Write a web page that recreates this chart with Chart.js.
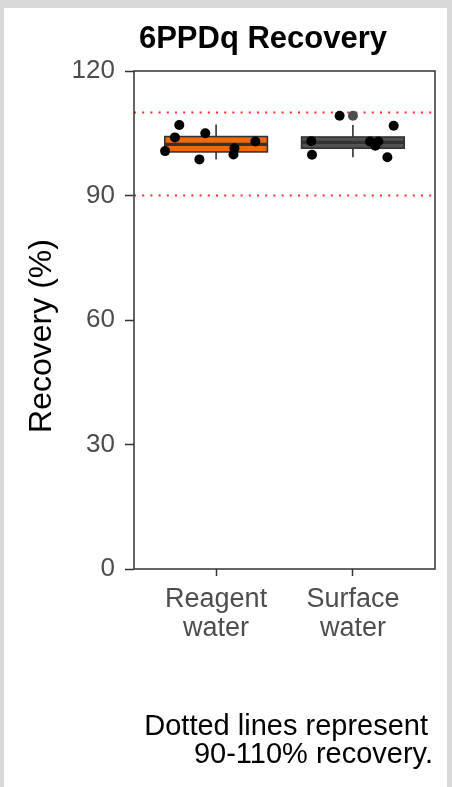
<!DOCTYPE html>
<html lang="en">
<head>
<meta charset="UTF-8" />
<title>6PPDq Recovery</title>
<script src="https://cdn.jsdelivr.net/npm/chart.js"></script>
<style>
  html, body { margin: 0; padding: 0; }
  body { background: #d9d9d9; width: 452px; height: 787px; overflow: hidden; position: relative; }
  .frame { position: absolute; left: 4px; top: 8px; width: 443px; height: 779px; background: #fff; }
  canvas { display: block; }
</style>
</head>
<body>
<div class="frame"><canvas id="recoveryChart" width="443" height="779"></canvas></div>

<script>
const categories = ['Reagent water', 'Surface water'];
const categoryLines = [['Reagent', 'water'], ['Surface', 'water']];
const yTicks = [0, 30, 60, 90, 120];
const limitLines = [90, 110];

// box stats
const boxLow = [98.7, 99.2];
const boxQ1 = [100.5, 101.4];
const boxMedian = [102.3, 102.8];
const boxQ3 = [104.2, 104.1];
const boxHigh = [107.1, 107.0];
const boxFill = ['#ef6a0a', '#525252'];

// individual samples, x = category position with jitter
const reagentX = [0.731, 0.699, 0.921, 0.627, 0.878, 1.287, 1.134, 1.127];
const reagentY = [107.0, 104.0, 105.0, 100.7, 98.7, 103.0, 101.4, 99.9];
const surfaceX = [1.903, 2.298, 1.696, 1.701, 2.125, 2.186, 2.164, 2.252];
const surfaceY = [109.2, 106.8, 103.1, 99.8, 103.0, 103.0, 102.0, 99.2];
const outlierX = [2];
const outlierY = [109.2];

const FONT = "'Liberation Sans', Arial, sans-serif";
const xy = (xs, ys) => xs.map((x, i) => ({ x, y: ys[i] }));

const boxPlugin = {
  id: 'boxes',
  beforeDatasetsDraw(chart) {
    const { ctx, scales: { x, y } } = chart;
    categories.forEach((c, i) => {
      const cx = x.getPixelForValue(i + 1);
      const l = x.getPixelForValue(i + 1 - 0.375);
      const r = x.getPixelForValue(i + 1 + 0.375);
      const top = y.getPixelForValue(boxQ3[i]);
      const bot = y.getPixelForValue(boxQ1[i]);
      const med = y.getPixelForValue(boxMedian[i]);
      ctx.save();
      ctx.strokeStyle = '#333';
      ctx.lineWidth = 1.6;
      ctx.beginPath();
      ctx.moveTo(cx, y.getPixelForValue(boxHigh[i]));
      ctx.lineTo(cx, top);
      ctx.moveTo(cx, bot);
      ctx.lineTo(cx, y.getPixelForValue(boxLow[i]));
      ctx.stroke();
      ctx.fillStyle = boxFill[i];
      ctx.fillRect(l, top, r - l, bot - top);
      ctx.strokeRect(l, top, r - l, bot - top);
      ctx.lineWidth = 3.2;
      ctx.beginPath();
      ctx.moveTo(l, med);
      ctx.lineTo(r, med);
      ctx.stroke();
      ctx.restore();
    });
  }
};

const textPlugin = {
  id: 'texts',
  afterDraw(chart) {
    const { ctx, chartArea: a } = chart;
    ctx.save();
    ctx.strokeStyle = '#333';
    ctx.lineWidth = 1.5;
    ctx.strokeRect(a.left, a.top, a.right - a.left, a.bottom - a.top);

    ctx.fillStyle = '#000';
    ctx.font = 'bold 31px ' + FONT;
    ctx.textAlign = 'center';
    ctx.textBaseline = 'alphabetic';
    ctx.fillText('6PPDq Recovery', 259, 40);

    ctx.font = '29px ' + FONT;
    ctx.textAlign = 'right';
    ctx.fillText('Dotted lines represent', 424, 727);
    ctx.fillText('90-110% recovery.', 429, 755);

    // y axis title
    ctx.translate(47, 328);
    ctx.rotate(-Math.PI / 2);
    ctx.font = '32px ' + FONT;
    ctx.textAlign = 'center';
    ctx.fillText('Recovery (%)', 0, 0);
    ctx.restore();
  }
};

const limitSets = limitLines.map(v => ({
  data: [{ x: 0.4, y: v }, { x: 2.6, y: v }],
  showLine: true,
  borderColor: '#ff2a2a',
  borderWidth: 2,
  borderDash: [2, 6.2],
  pointRadius: 0,
  order: 3
}));

const pointStyle = { pointRadius: 5, pointHoverRadius: 5, borderWidth: 0 };

new Chart(document.getElementById('recoveryChart'), {
  type: 'scatter',
  data: {
    datasets: [
      ...limitSets,
      { data: xy(outlierX, outlierY), backgroundColor: '#4d4d4d', ...pointStyle, order: 2 },
      { data: xy(reagentX, reagentY), backgroundColor: '#000', ...pointStyle, order: 1 },
      { data: xy(surfaceX, surfaceY), backgroundColor: '#000', ...pointStyle, order: 1 }
    ]
  },
  options: {
    responsive: false,
    animation: false,
    events: [],
    layout: { padding: { top: 63, right: 12, left: 0, bottom: 0 } },
    plugins: { legend: { display: false }, tooltip: { enabled: false } },
    scales: {
      x: {
        type: 'linear',
        min: 0.4,
        max: 2.6,
        afterBuildTicks: s => { s.ticks = [{ value: 1 }, { value: 2 }]; },
        afterFit: s => { s.height = 218; },
        ticks: {
          callback: v => categoryLines[Math.round(v) - 1],
          color: '#4d4d4d',
          font: { size: 27, family: FONT, lineHeight: 1.08 },
          padding: 9,
          autoSkip: false,
          maxRotation: 0
        },
        grid: { drawOnChartArea: false, tickLength: 7, color: '#333', tickWidth: 1.5 },
        border: { display: false }
      },
      y: {
        min: 0,
        max: 120,
        afterBuildTicks: s => { s.ticks = yTicks.map(v => ({ value: v })); },
        afterFit: s => { s.width = 130; },
        ticks: {
          color: '#4d4d4d',
          font: { size: 26, family: FONT },
          padding: 10
        },
        grid: { drawOnChartArea: false, tickLength: 9, color: '#333', tickWidth: 1.5 },
        border: { display: false }
      }
    }
  },
  plugins: [boxPlugin, textPlugin]
});
</script>
</body>
</html>
